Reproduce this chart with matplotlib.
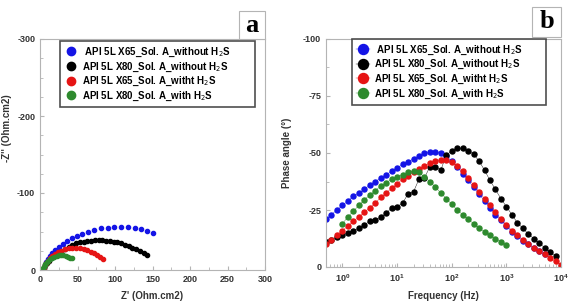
import matplotlib
matplotlib.use('Agg')
from matplotlib import pyplot as plt
from matplotlib.patches import Rectangle
from matplotlib.ticker import MultipleLocator, FixedLocator
import numpy as np

plt.rcParams['font.family'] = ['Liberation Sans', 'DejaVu Sans']
plt.rcParams['axes.unicode_minus'] = False

labels = [' API 5L X65_Sol. A_without H$_2$S', 'API 5L X80_Sol. A_without H$_2$S',
          'API 5L X65_Sol. A_witht H$_2$S', 'API 5L X80_Sol. A_with H$_2$S']
colors = ['#1414e6', '#000000', '#e61414', '#2e8a2e']

# Nyquist: Z' and -Z'' (Ohm.cm2)
zre_x65 = [4, 5, 6, 8, 10, 13, 16, 20, 25, 30, 36, 42, 49, 56, 64, 72, 81, 90, 99, 108, 117, 126, 134, 142, 150]
zim_x65 = [0, 3, 6, 10, 14, 18, 22, 26, 30, 34, 38, 41, 44, 47, 50, 52, 54, 55, 56, 56, 56, 55, 53, 51, 48]
zre_x80 = [4, 5, 7, 9, 12, 15, 19, 23, 28, 33, 38, 43, 48, 53, 58, 63, 68, 73, 78, 83, 88, 93, 98, 103, 108,
           113, 118, 123, 128, 133, 138, 142]
zim_x80 = [0, 3, 6, 9, 12, 15, 18, 21, 24, 27, 30, 33, 35, 36, 37, 38, 38, 39, 39, 39, 38, 38, 37, 36, 35,
           33, 31, 29, 27, 25, 22, 20]
zre_x65_h2s = [4, 5, 6, 8, 10, 13, 16, 20, 24, 28, 33, 38, 43, 48, 53, 58, 63, 68, 72, 76, 80, 84]
zim_x65_h2s = [0, 3, 6, 9, 12, 15, 18, 21, 23, 25, 27, 28, 28, 28, 28, 27, 26, 24, 22, 20, 17, 14]
zre_x80_h2s = [3, 4, 5, 6, 7, 9, 11, 13, 16, 19, 22, 25, 28, 31, 34, 37, 40, 43]
zim_x80_h2s = [0, 2, 4, 6, 8, 10, 12, 14, 16, 17, 18, 19, 19, 19, 18, 17, 16, 15]

# Bode: frequency (Hz) and phase angle magnitude (deg)
freq = [0.5, 0.63, 0.79, 1.0, 1.26, 1.58, 2.0, 2.51, 3.16, 3.98, 5.01, 6.31, 7.94,
        10.0, 12.6, 15.8, 20.0, 25.1, 31.6, 39.8, 50.1, 63.1, 79.4,
        100, 126, 158, 200, 251, 316, 398, 501, 631, 794,
        1000, 1260, 1580, 2000, 2510, 3160, 3980, 5010, 6310, 7940, 10000]
ph_x65 = [21, 23, 25, 27, 29, 31, 32.5, 34, 36, 37.5, 39, 40.5, 42, 43.5, 45, 46, 47.5, 48.5, 50, 50.5,
          50.5, 50, 48.5, 46.5, 44, 41, 38, 35, 32, 29, 26, 23, 20.5, 18, 15.5, 13.5, 11.5, 10, 8.5, 7, 5.5]
ph_x80 = [11, 12, 13, 14, 15, 16, 17, 18.5, 20, 20.5, 22, 23.5, 26, 26.5, 28, 32, 33, 38.5, 39, 44,
          44, 42.5, 49, 51, 52, 52, 51, 49.5, 46.5, 42.5, 38, 34, 30, 26.5, 23, 19.5, 17, 14.5, 12.5,
          10.5, 8.5, 6.5, 5]
ph_x65_h2s = [10, 12, 14, 16, 18, 20, 22, 24, 26, 28, 30.5, 32.5, 34.5, 36.5, 38.5, 40, 41.5, 43, 44.5,
              45.5, 46.5, 47, 47, 46, 44.5, 42, 39, 36, 33, 30, 27, 24, 21, 18.5, 16, 14, 12, 10, 8.5,
              7, 5.5, 4, 2.5, 1]
freq_x80_h2s = freq[3:34]
ph_x80_h2s = [19, 22, 24.5, 27, 29.5, 31.5, 33.5, 35.5, 37, 38.5, 39.5, 40.5, 41.5, 42, 41.5, 39.5,
              37.5, 35, 32.5, 30, 27.5, 25, 23, 21, 19, 17, 15.5, 14, 12.5, 11, 9.5]

fig = plt.figure(figsize=(5.68, 3.04), dpi=100)
W, H = 568.0, 304.0

def style_axes(ax):
    for s in ax.spines.values():
        s.set_color('#b4b4b4')
        s.set_linewidth(0.8)
    ax.tick_params(which='both', direction='in', colors='#b4b4b4', labelcolor='#333333',
                   labelsize=6.5, top=False, right=False)
    ax.tick_params(which='major', length=3)
    ax.tick_params(which='minor', length=2)
    for t in ax.get_xticklabels() + ax.get_yticklabels():
        t.set_fontweight('bold')

def add_legend(ax, anchor):
    # anchor = (x0, y_top, width); expand mode keeps the wide box of the original
    x0, ytop, w = anchor
    leg = ax.legend(loc='upper left', bbox_to_anchor=(x0, ytop - 0.3, w, 0.3), mode='expand',
                    fontsize=7, frameon=True, fancybox=False, edgecolor='#222222',
                    handlelength=1.4, handletextpad=0.4, borderpad=0.45, labelspacing=0.15,
                    markerscale=2.0, borderaxespad=0)
    leg.get_frame().set_linewidth(1.2)
    for t in leg.get_texts():
        t.set_fontweight('bold')

# ---- panel a: Nyquist
ax1 = fig.add_axes([40 / W, 1 - 270 / H, 225 / W, 231 / H])
nyq = [(zre_x65, zim_x65), (zre_x80, zim_x80), (zre_x65_h2s, zim_x65_h2s), (zre_x80_h2s, zim_x80_h2s)]
for (zr, zi), c, lab in zip(nyq, colors, labels):
    ax1.plot(zr, -np.array(zi), 'o', color=c, ms=3.0, mec=c, lw=0, label=lab)
ax1.set_xlim(0, 300)
ax1.set_ylim(0, -300)
ax1.xaxis.set_major_locator(MultipleLocator(50))
ax1.xaxis.set_minor_locator(MultipleLocator(25))
ax1.yaxis.set_major_locator(MultipleLocator(100))
ax1.yaxis.set_minor_locator(MultipleLocator(25))
style_axes(ax1)
ax1.set_xlabel("Z' (Ohm.cm2)", fontsize=7, fontweight='bold', color='#333333', labelpad=5)
add_legend(ax1, (0.089, 0.99, 0.867))
fig.text(7 / W, 1 - 128 / H, "-Z'' (Ohm.cm2)", rotation=90, fontsize=7, fontweight='bold',
         color='#333333', ha='center', va='center')

# ---- panel b: Bode phase
ax2 = fig.add_axes([326 / W, 1 - 267 / H, 235 / W, 228 / H])
bode = [(freq[:len(ph_x65)], ph_x65), (freq[:len(ph_x80)], ph_x80),
        (freq[:len(ph_x65_h2s)], ph_x65_h2s), (freq_x80_h2s, ph_x80_h2s)]
for (f, p), c, lab in zip(bode, colors, labels):
    ax2.plot(f, -np.array(p), 'o-', color=c, ms=3.6, mec=c, lw=0.3, label=lab)
ax2.set_xscale('log')
ax2.set_xlim(0.5, 1e4)
ax2.set_ylim(0, -100)
ax2.xaxis.set_major_locator(FixedLocator([1, 10, 100, 1000, 10000]))
ax2.yaxis.set_major_locator(MultipleLocator(25))
ax2.yaxis.set_minor_locator(MultipleLocator(12.5))
style_axes(ax2)
ax2.set_xlabel('Frequency (Hz)', fontsize=7, fontweight='bold', color='#333333', labelpad=5)
ax2.set_ylabel('Phase angle (°)', fontsize=7, fontweight='bold', color='#333333', labelpad=8)
add_legend(ax2, (0.11, 1.0, 0.826))

# panel letters
for (x0, y0, x1, y1), letter in [((239, 11, 265, 39), 'a'), ((532, 7, 561, 37), 'b')]:
    fig.patches.append(Rectangle((x0 / W, 1 - y1 / H), (x1 - x0) / W, (y1 - y0) / H,
                                 transform=fig.transFigure, facecolor='white',
                                 edgecolor='#b4b4b4', lw=0.8))
    fig.text((x0 + x1) / 2 / W, 1 - (y0 + y1) / 2 / H, letter, fontsize=19, fontweight='bold',
             family=['Liberation Serif', 'DejaVu Serif'], ha='center', va='center')

fig.savefig('out.png', dpi=100)
